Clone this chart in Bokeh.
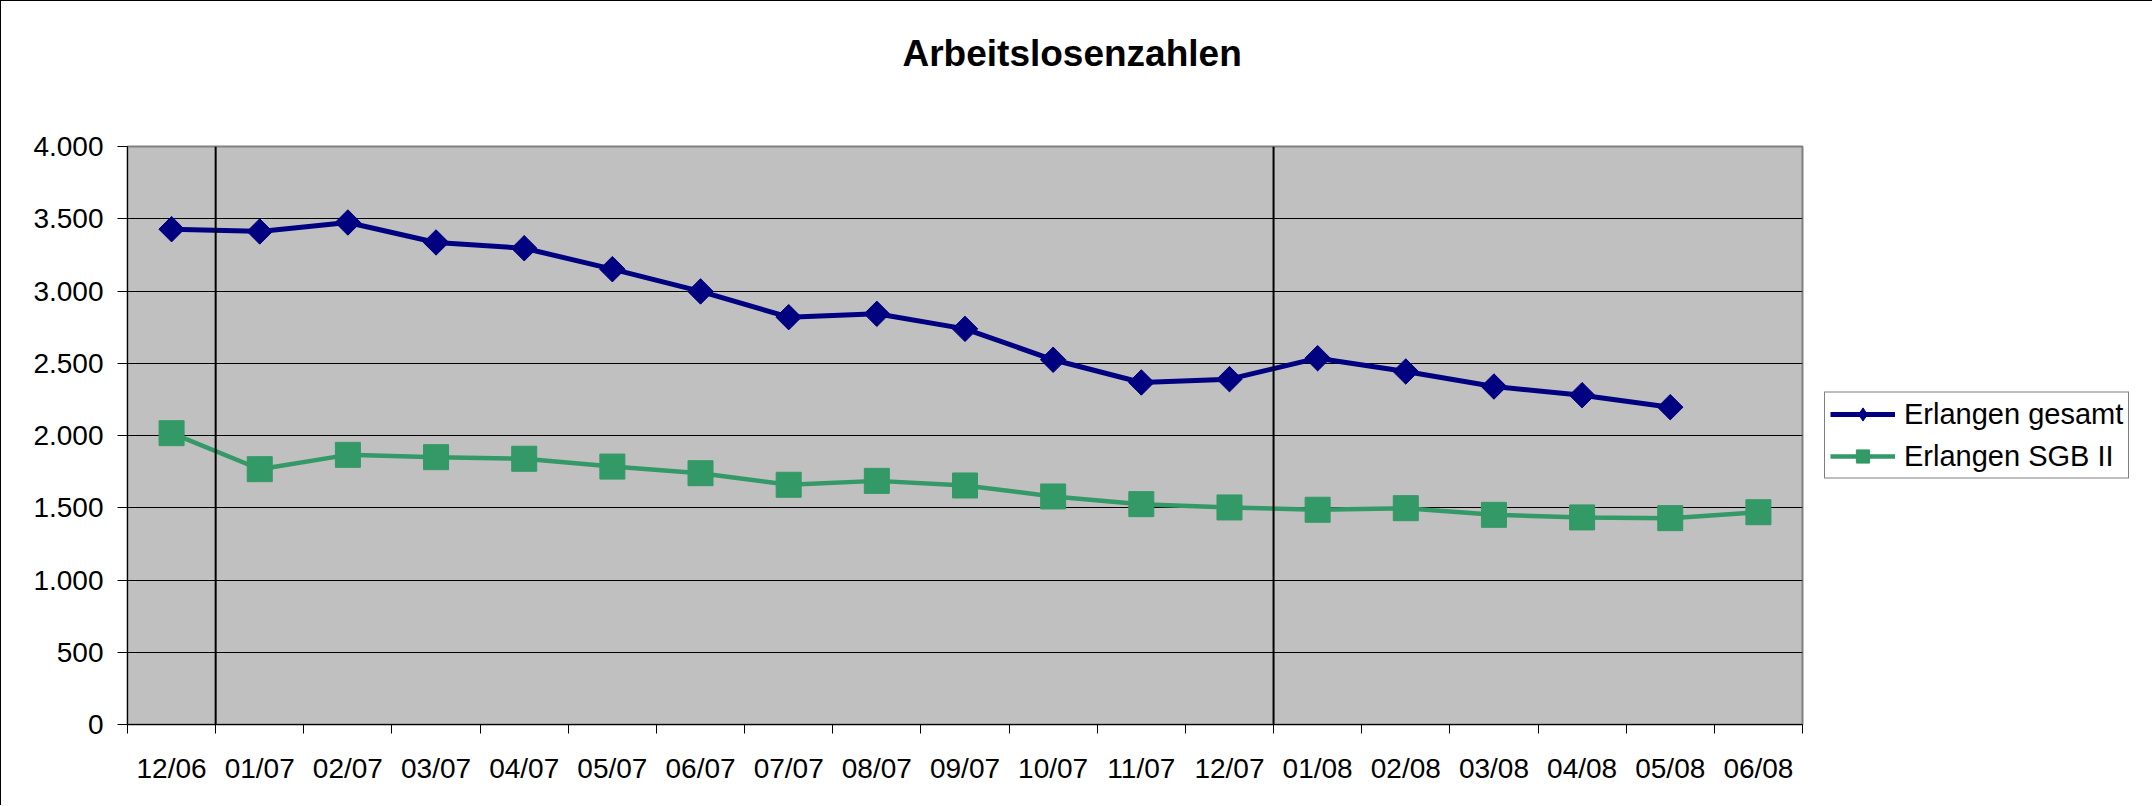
import math
from bokeh.plotting import figure
from bokeh.models import (FactorRange, Range1d, LinearAxis, CategoricalAxis,
                          FixedTicker, Span, Legend, LegendItem, Title)
from bokeh.embed import file_html
from bokeh.resources import INLINE

# ---- data -------------------------------------------------------------
months = ["12/06", "01/07", "02/07", "03/07", "04/07", "05/07", "06/07", "07/07",
          "08/07", "09/07", "10/07", "11/07", "12/07", "01/08", "02/08", "03/08",
          "04/08", "05/08", "06/08"]
erlangen_gesamt = [3428, 3412, 3474, 3336, 3296, 3151, 2997, 2819, 2842, 2738,
                   2524, 2367, 2390, 2535, 2443, 2339, 2279, 2196]
erlangen_sgb2 = [2016, 1767, 1866, 1850, 1839, 1785, 1739, 1659, 1686, 1654,
                 1578, 1525, 1502, 1486, 1497, 1451, 1433, 1428, 1469]
y_ticks = [0, 500, 1000, 1500, 2000, 2500, 3000, 3500, 4000]
y_tick_labels = ["0", "500", "1.000", "1.500", "2.000", "2.500", "3.000", "3.500", "4.000"]
year_starts = ["01/07", "01/08"]
series_names = ["Erlangen gesamt", "Erlangen SGB II"]
chart_title = "Arbeitslosenzahlen"

FONT = "Liberation Sans"
NAVY = "#000080"
GREEN = "#339966"

p = figure(frame_width=1675, frame_height=578,
           x_range=FactorRange(*months, range_padding=0),
           y_range=Range1d(0, 4000),
           output_backend="svg", toolbar_location=None, x_axis_location=None,
           min_border_left=126, min_border_right=333, min_border_top=145,
           min_border_bottom=81)
p.styles = {"border-top": "1px solid black", "border-left": "1px solid black",
            "border-right": "1px solid black"}

p.background_fill_color = "#C0C0C0"
p.border_fill_color = "white"
p.outline_line_color = "#808080"
p.outline_line_width = 2
p.title.text = ""

# spacer between frame and title, then the title itself (outermost)
p.add_layout(Title(text=" ", text_font=FONT, text_font_size="10px", standoff=60,
                   text_color="white"), "above")
p.add_layout(Title(text=chart_title, text_font=FONT, text_font_size="37px",
                   text_font_style="bold", text_color="black", align="left",
                   offset=775, standoff=0), "above")

# y axis
p.yaxis.ticker = FixedTicker(ticks=y_ticks)
p.ygrid.ticker = FixedTicker(ticks=y_ticks)
p.yaxis.major_label_overrides = dict(zip(y_ticks, y_tick_labels))
p.yaxis.major_label_text_font = FONT
p.yaxis.major_label_text_font_size = "28px"
p.yaxis.major_label_text_color = "black"
p.yaxis.major_tick_in = 0
p.yaxis.major_tick_out = 10
p.yaxis.major_tick_line_color = "black"
p.yaxis.minor_tick_line_color = None
p.yaxis.axis_line_color = "black"
p.yaxis.major_label_standoff = 14
p.ygrid.grid_line_color = "black"
p.ygrid.grid_line_width = 1
p.xgrid.visible = False

# x axes: tick marks on category edges + category labels
n = len(months)
edge_axis = LinearAxis(ticker=FixedTicker(ticks=list(range(n + 1))),
                       major_tick_in=0, major_tick_out=9, major_tick_line_color="black",
                       axis_line_color="black", minor_tick_line_color=None,
                       major_label_text_font_size="0px", major_label_text_color=None,
                       major_label_standoff=0)
p.add_layout(edge_axis, "below")
cat_axis = CategoricalAxis(major_tick_line_color=None, axis_line_color=None,
                           minor_tick_line_color=None,
                           major_label_text_font=FONT, major_label_text_font_size="28px",
                           major_label_text_color="black", major_label_standoff=13)
p.add_layout(cat_axis, "below")

# year separators
for m in year_starts:
    p.add_layout(Span(location=months.index(m), dimension="height",
                      line_color="black", line_width=2))

# series
x1 = months[:len(erlangen_gesamt)]
l1 = p.line(x1, erlangen_gesamt, line_color=NAVY, line_width=5)
# diamond marker (used as legend swatch), covered by the rotated square below
d1 = p.scatter(x1, erlangen_gesamt, marker="diamond", size=24,
               fill_color=NAVY, line_color=NAVY)
s1 = p.scatter(x1, erlangen_gesamt, marker="square", angle=math.pi / 4, size=18,
               fill_color=NAVY, line_color=NAVY, line_width=1)
l2 = p.line(months, erlangen_sgb2, line_color=GREEN, line_width=4.5)
s2 = p.scatter(months, erlangen_sgb2, marker="square", size=25,
               fill_color=GREEN, line_color=GREEN, line_width=1)

legend = Legend(items=[LegendItem(label=series_names[0], renderers=[l1, d1]),
                       LegendItem(label=series_names[1], renderers=[l2, s2])],
                location="center_left", margin=22, padding=5, spacing=9,
                label_text_font=FONT, label_text_font_size="29px", label_text_color="black",
                label_height=33, glyph_height=33, glyph_width=65, label_standoff=9,
                border_line_color="black", border_line_width=1,
                background_fill_color="white")
p.add_layout(legend, "right")

open("out.html", "w").write(file_html(p, INLINE))
